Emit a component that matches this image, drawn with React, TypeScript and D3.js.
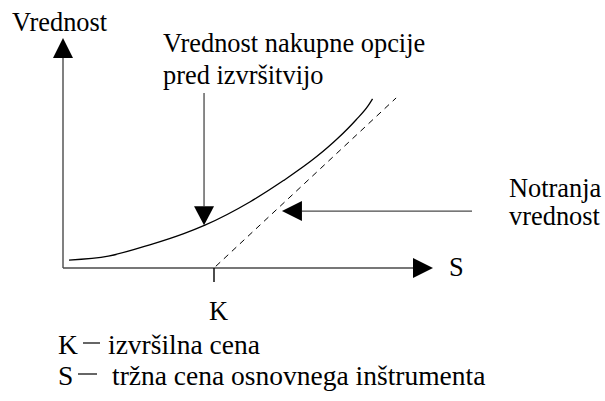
import React from "react";
import * as d3 from "d3";

// Option value before exercise, sampled along the underlying price S
const curveS = [2, 15, 29, 40, 47, 62, 73, 84, 91, 97, 101, 102.5];
const curveV = [2.8, 4.2, 8.3, 12.2, 15.2, 23.5, 31, 39.5, 46, 52.5, 57.5, 60];

// Intrinsic value max(S - K, 0), drawn from the strike up to S end
const strikeK = 50;
const intrinsicS = [50.6, 110.3];

// Annotation anchors (in data units)
const callPointerS = 46.7;
const callPointerV = 15.2;
const intrinsicPointerS = 72.5;
const intrinsicPointerV = 20.2;

const axisLabels = { y: "Vrednost", x: "S", k: "K" };
const callLabel = ["Vrednost nakupne opcije", "pred izvršitvijo"];
const intrinsicLabel = ["Notranja", "vrednost"];
const legendRows = [
  { sym: "K", text: "izvršilna cena" },
  { sym: "S", text: "tržna cena osnovnega inštrumenta" },
];

const W = 605;
const H = 401;
const FONT = "'Liberation Serif', 'Times New Roman', serif";

export default function App() {
  const x = d3.scaleLinear().domain([0, 100]).range([63, 365]);
  const y = d3.scaleLinear().domain([0, 60]).range([268, 268 - 60 * 2.82]);

  const curvePts: [number, number][] = curveS.map((s, i) => [x(s), y(curveV[i])]);
  const line = d3.line().curve(d3.curveMonotoneX);
  const curvePath = line(curvePts) || "";

  const intr = intrinsicS.map((s) => [x(s), y(Math.max(s - strikeK, 0))] as [number, number]);
  const intrPath = d3.line()(intr) || "";

  const x0 = x(0);
  const y0 = y(0);
  const axisColor = "#4a4a4a";

  // down arrow to call curve
  const dTipX = x(callPointerS);
  const dTipY = y(callPointerV);
  // left arrow to intrinsic line
  const lTipX = x(intrinsicPointerS);
  const lTipY = y(intrinsicPointerV);

  return (
    <svg width={W} height={H} style={{ display: "block", position: "absolute", left: 0, top: 0 }}
      fontFamily={FONT} fontSize={26.4} fill="#000">
      <rect width={W} height={H} fill="#fff" />

      {/* axes */}
      <line x1={x0} y1={y0} x2={x0} y2={58} stroke={axisColor} strokeWidth={1.4} />
      <path d={`M${x0},38 L${x0 - 10},58 L${x0 + 10},58 Z`} fill="#000" />
      <line x1={x0} y1={y0} x2={413} y2={y0} stroke={axisColor} strokeWidth={1.4} />
      <path d={`M433,${y0} L413,${y0 - 10} L413,${y0 + 10} Z`} fill="#000" />

      {/* strike tick */}
      <line x1={x(strikeK)} y1={y0} x2={x(strikeK)} y2={282} stroke="#000" strokeWidth={1.4} />

      {/* intrinsic value */}
      <path d={intrPath} fill="none" stroke="#000" strokeWidth={1} strokeDasharray="6,5" />

      {/* option value */}
      <path d={curvePath} fill="none" stroke="#000" strokeWidth={1.3} />

      {/* pointer to option value */}
      <line x1={dTipX} y1={93} x2={dTipX} y2={dTipY - 19} stroke={axisColor} strokeWidth={1.3} />
      <path d={`M${dTipX},${dTipY} L${dTipX - 10},${dTipY - 19} L${dTipX + 10},${dTipY - 19} Z`} fill="#000" />

      {/* pointer to intrinsic value */}
      <line x1={lTipX + 20} y1={lTipY} x2={472} y2={lTipY} stroke={axisColor} strokeWidth={1.3} />
      <path d={`M${lTipX},${lTipY} L${lTipX + 20},${lTipY - 10} L${lTipX + 20},${lTipY + 10} Z`} fill="#000" />

      {/* labels */}
      <text x={12} y={31}>{axisLabels.y}</text>
      <text x={449} y={276}>{axisLabels.x}</text>
      <text x={x(strikeK) - 5} y={320}>{axisLabels.k}</text>

      {callLabel.map((t, i) => (
        <text key={t} x={163} y={52 + i * 32}>{t}</text>
      ))}
      {intrinsicLabel.map((t, i) => (
        <text key={t} x={509} y={197 + i * 28}>{t}</text>
      ))}

      {legendRows.map((r, i) => (
        <g key={r.sym} fontSize={27.5}>
          <text x={58} y={354 + i * 31}>{r.sym}</text>
          <line x1={i === 0 ? 83 : 78} x2={i === 0 ? 100 : 97} y1={343 + i * 31} y2={343 + i * 31}
            stroke="#000" strokeWidth={1.2} />
          <text x={i === 0 ? 108 : 112} y={354 + i * 31}>{r.text}</text>
        </g>
      ))}
    </svg>
  );
}
